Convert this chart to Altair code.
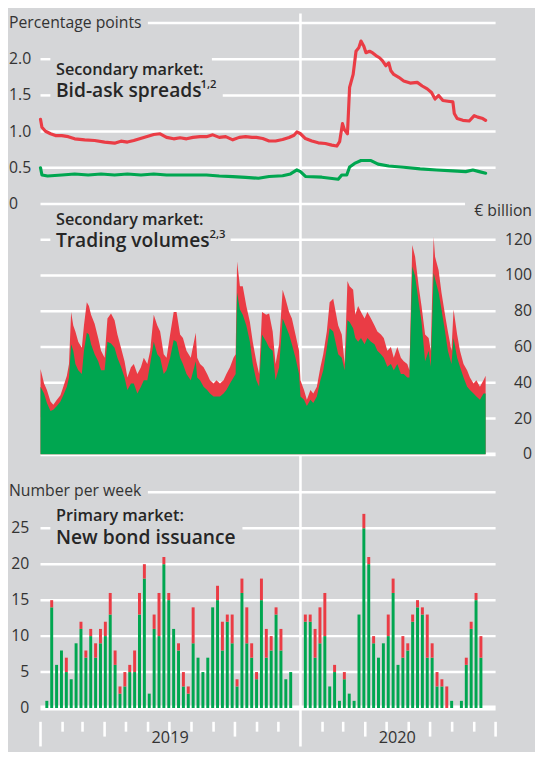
import altair as alt
import pandas as pd

# ---------------- data ----------------
BASE = "2019-01-01"  # day offsets below count from this date

# Secondary market: bid-ask spreads (percentage points)
spread_red_day = [0, 2, 7, 14, 21, 30, 39, 48, 62, 76, 90, 104, 113, 122, 131, 145, 159, 168, 177, 187,
                  196, 205, 214, 224, 233, 242, 251, 260, 270, 279, 288, 297, 303, 312, 321, 330, 340, 349,
                  356, 360, 365, 372, 381, 390, 400, 409, 416, 420, 424, 427, 431, 434, 439, 443, 447, 450,
                  454, 457, 462, 466, 471, 476, 480, 485, 489, 492, 496, 503, 510, 519, 529, 536, 543, 549,
                  554, 559, 565, 572, 579, 581, 585, 593, 602, 609, 614, 621, 625]
spread_red = [1.17, 1.06, 1.005, 0.97, 0.945, 0.945, 0.93, 0.90, 0.886, 0.877, 0.855, 0.84, 0.868, 0.855,
              0.877, 0.92, 0.96, 0.97, 0.92, 0.90, 0.914, 0.90, 0.92, 0.93, 0.93, 0.955, 0.92, 0.93, 0.886,
              0.92, 0.93, 0.92, 0.92, 0.904, 0.87, 0.87, 0.89, 0.918, 0.95, 0.995, 0.97, 0.904, 0.87, 0.845,
              0.836, 0.813, 0.80, 0.86, 1.11, 1.02, 0.97, 1.61, 1.79, 2.11, 2.16, 2.25, 2.18, 2.09, 2.11,
              2.09, 2.05, 2.02, 1.98, 1.91, 1.95, 1.84, 1.79, 1.75, 1.70, 1.67, 1.68, 1.63, 1.59, 1.54,
              1.45, 1.50, 1.43, 1.42, 1.41, 1.25, 1.18, 1.155, 1.146, 1.22, 1.20, 1.18, 1.155]
spread_green_day = [0, 2, 10, 30, 48, 67, 85, 104, 122, 141, 159, 177, 196, 214, 233, 251, 270, 288, 306,
                    321, 340, 351, 360, 365, 372, 395, 418, 423, 430, 434, 441, 450, 464, 474, 489, 510,
                    533, 556, 579, 597, 607, 616, 625]
spread_green = [0.50, 0.40, 0.386, 0.40, 0.414, 0.40, 0.414, 0.40, 0.414, 0.40, 0.414, 0.40, 0.40, 0.40,
                0.40, 0.386, 0.377, 0.368, 0.355, 0.38, 0.39, 0.415, 0.47, 0.447, 0.38, 0.37, 0.342, 0.40,
                0.40, 0.51, 0.56, 0.60, 0.60, 0.55, 0.525, 0.507, 0.484, 0.47, 0.457, 0.447, 0.47, 0.447,
                0.425]

# Secondary market: trading volumes (EUR billion), total (red top) and green part
vol_day = [0, 5, 9, 14, 18, 23, 28, 32, 37, 40, 43, 46, 49, 53, 58, 61, 65, 68, 71, 76, 81, 85, 90, 94,
           99, 104, 108, 113, 118, 122, 127, 131, 136, 141, 145, 150, 154, 159, 164, 168, 173, 177, 182,
           187, 191, 196, 200, 205, 211, 218, 220, 224, 229, 234, 238, 243, 247, 252, 257, 261, 266, 271,
           274, 276, 280, 284, 289, 294, 298, 303, 307, 311, 317, 321, 326, 330, 335, 340, 344, 349, 353,
           358, 363, 365, 370, 374, 379, 383, 388, 393, 397, 402, 406, 411, 418, 423, 427, 431, 434, 439,
           442, 446, 450, 455, 459, 464, 469, 473, 478, 482, 487, 492, 496, 501, 506, 510, 515, 518, 522,
           526, 531, 535, 540, 545, 548, 552, 554, 559, 563, 568, 572, 577, 580, 585, 589, 594, 599, 603,
           608, 612, 617, 622, 625]
vol_total = [47.8, 39.6, 36, 29.6, 27.8, 30.5, 33, 37.8, 44, 50.5, 79.6, 72, 68.7, 63, 59.6, 72, 85, 83,
             78, 73, 65, 58, 54, 76, 78.7, 75, 67, 59.6, 52, 43, 48.7, 50.5, 45, 48.7, 54, 50.5, 58, 78,
             72, 68.7, 56, 54, 67, 79.6, 79.6, 67, 65, 58, 54, 68, 54, 50.5, 48.7, 45, 41.5, 39.6, 41.5,
             39.6, 41.5, 45, 48.7, 54, 56, 107.8, 94, 94, 83, 74, 63, 52, 45, 79.6, 78, 78.7, 68.7, 50.5,
             61.5, 92, 87, 79.6, 76, 67, 58, 41.5, 36, 30.5, 36, 34, 37.8, 48.7, 56, 68.7, 85, 87, 72, 67,
             50.5, 97, 94, 92, 78, 83, 79.6, 76, 79.6, 76, 72, 68.7, 67, 65, 58, 60, 54, 60, 54, 52, 50.5,
             47, 117, 110.5, 94, 83, 67, 65, 58, 121.5, 110.5, 103, 90.5, 78, 68.7, 58, 81, 67, 58, 50.5,
             47, 43, 39.6, 41.5, 37.8, 41.5, 44]
vol_green = [37.8, 34, 28.7, 24.2, 25, 27, 29.6, 33, 37.8, 43, 61.5, 58, 50.5, 47, 45, 58, 68, 67, 61.5,
             56, 52, 47, 47, 63, 62, 59.6, 54, 49, 43, 36, 39.6, 39.6, 34, 37.8, 41.5, 41.5, 50.5, 63, 56,
             54, 45, 47, 54, 64, 63, 54, 50.5, 45, 41.5, 52, 43, 41.5, 37.8, 36, 34, 32.4, 32.4, 32.4, 34,
             36, 39.6, 43, 45, 90.5, 81, 78, 72, 63, 50.5, 41.5, 37.8, 67, 63, 59.6, 58, 41.5, 48.7, 76,
             72, 67, 61.5, 54, 45, 32.4, 30.5, 27, 30.5, 28.7, 32.4, 41.5, 47, 59.6, 70.5, 68.7, 56, 54,
             47, 75, 74, 70.5, 65, 63, 65, 61.5, 65, 63, 61.5, 58, 56, 54, 49, 50.5, 47, 50.5, 45, 45, 43,
             43, 105, 99.6, 85, 74, 52, 58, 49, 101.5, 98, 90.5, 81, 68.7, 58, 50.5, 65, 54, 49, 43, 37.8,
             36, 34, 32.4, 30.5, 34, 34]

# Primary market: new bond issuance, number per week (green part and total)
iss_2019_green = [1, 14, 6, 8, 5, 4, 9, 11, 7, 10, 7, 9, 10, 13, 6, 2, 3, 5, 5, 13, 18, 2, 11, 10, 20, 15,
                  11, 8, 3, 2, 9, 7, 5, 7, 14, 15, 8, 12, 9, 3, 16, 9, 7, 4, 15, 7, 8, 13, 8, 4, 5]
iss_2019_total = [1, 15, 6, 8, 7, 4, 9, 12, 8, 11, 9, 11, 12, 16, 8, 3, 5, 6, 8, 16, 20, 2, 13, 16, 21, 16,
                  11, 9, 5, 3, 14, 7, 5, 7, 14, 17, 12, 13, 13, 4, 18, 14, 9, 5, 18, 11, 10, 14, 11, 4, 5]
iss_2020_green = [12, 12, 7, 9, 10, 3, 5, 1, 4, 2, 1, 13, 25, 20, 9, 7, 9, 10, 16, 6, 7, 8, 12, 14, 13, 7,
                  7, 3, 3, 0, 1, 0, 1, 6, 11, 15, 7]
iss_2020_total = [13, 13, 11, 14, 16, 3, 6, 1, 5, 2, 1, 13, 27, 21, 10, 7, 9, 13, 18, 6, 10, 9, 13, 15, 14,
                  13, 9, 5, 4, 3, 1, 0, 1, 7, 12, 16, 10]

top_ticks = [0, 0.5, 1.0, 1.5, 2.0]
top_tick_labels = ["0", "0.5", "1.0", "1.5", "2.0"]
mid_ticks = [0, 20, 40, 60, 80, 100, 120]
bot_ticks = [0, 5, 10, 15, 20, 25]

# ---------------- style / layout ----------------
FONT = "Open Sans"
BG = "#d5d6d8"
RED = "#ea3c45"
GREEN = "#00a650"
TXT = "#333333"
W, H = 462, 705
D0, D1 = pd.Timestamp("2019-01-01"), pd.Timestamp("2020-10-01")

TOP_R, MID_R, BOT_R = (193.3, 9.6), (447.5, 193.3), (705, 486)
TOP_MAX, MID_MAX, BOT_MAX = 2.5, 140, 30

# gridline segments: (panel, value, left px, right px) - gaps leave room for annotations
grid_segments = [("top", 2.5, 109, W), ("top", 2.0, 0, 10), ("top", 2.0, 174, W), ("top", 1.5, 0, 10),
                 ("top", 1.5, 185, W), ("top", 1.0, 0, W), ("top", 0.5, 0, W), ("top", 0.0, 0, 431),
                 ("mid", 120, 0, 10), ("mid", 120, 193, W), ("mid", 100, 0, W), ("mid", 80, 0, W),
                 ("mid", 60, 0, W), ("mid", 40, 0, W), ("mid", 20, 0, W),
                 ("bot", 30, 109, W), ("bot", 25, 0, 10), ("bot", 25, 205, W), ("bot", 20, 0, W),
                 ("bot", 15, 0, W), ("bot", 10, 0, W), ("bot", 5, 0, W)]
base_segments = [("mid", 0, 0, W, 4), ("bot", 0, 0, W, 5)]


def to_dates(days):
    return pd.Timestamp(BASE) + pd.to_timedelta(days, unit="D")


XS = alt.Scale(domain=[alt.DateTime(year=2019, month=1, date=1),
                       alt.DateTime(year=2020, month=10, date=1)])
TOP = alt.Scale(domain=[0, TOP_MAX], range=list(TOP_R), nice=False, zero=False)
MID = alt.Scale(domain=[0, MID_MAX], range=list(MID_R), nice=False)
BOT = alt.Scale(domain=[0, BOT_MAX], range=list(BOT_R), nice=False)
PANEL = {"top": (TOP_R, TOP_MAX), "mid": (MID_R, MID_MAX), "bot": (BOT_R, BOT_MAX)}


def xdate(field="date:T"):
    return alt.X(field, scale=XS, axis=None)


def px(field):
    return alt.X(field, scale=None, axis=None)


def py(field):
    return alt.Y(field, scale=None, axis=None)


# data frames
red_df = pd.DataFrame({"date": to_dates(spread_red_day), "v": spread_red})
green_df = pd.DataFrame({"date": to_dates(spread_green_day), "v": spread_green})
vol_df = pd.DataFrame({"date": to_dates(vol_day), "total": vol_total, "green": vol_green})
weeks = list(pd.date_range("2019-01-03", periods=len(iss_2019_green), freq="7D")) + \
        list(pd.date_range("2020-01-09", periods=len(iss_2020_green), freq="7D"))
iss_df = pd.DataFrame({"date": weeks,
                       "green": iss_2019_green + iss_2020_green,
                       "total": iss_2019_total + iss_2020_total})


def seg_frame(rows):
    out = []
    span = D1 - D0
    for r in rows:
        panel, v, a, b = r[0], r[1], r[2], r[3]
        (r0, r1), vmax = PANEL[panel]
        out.append({"ypix": r0 + (v / vmax) * (r1 - r0),
                    "da": D0 + span * (a / W), "db": D0 + span * (b / W)})
    return pd.DataFrame(out)


grid_lines = alt.Chart(seg_frame(grid_segments)).mark_rule(color="white", strokeWidth=2.5).encode(
    x=xdate("da:T"), x2="db:T", y=py("ypix:Q"))
base_mid = alt.Chart(seg_frame(base_segments[:1])).mark_rule(color="white", strokeWidth=4).encode(
    x=xdate("da:T"), x2="db:T", y=py("ypix:Q"))
base_bot = alt.Chart(seg_frame(base_segments[1:])).mark_rule(color="white", strokeWidth=5).encode(
    x=xdate("da:T"), x2="db:T", y=py("ypix:Q"))

# month ticks and the year boundary line
months = pd.date_range("2019-01-01", "2020-10-01", freq="MS")
tick_df = pd.DataFrame({"date": months})
tick_df["y1"] = 719
tick_df["y2"] = [744 if m.month == 1 else (734 if m.month in (4, 7, 10) else 729) for m in months]
tick_df.loc[tick_df["date"] == pd.Timestamp("2020-01-01"), "y1"] = 0
ticks = alt.Chart(tick_df).mark_rule(color="white", strokeWidth=2.6).encode(
    x=xdate(), y=py("y1:Q"), y2="y2:Q")

# data marks
area_red = alt.Chart(vol_df).mark_area(color=RED).encode(
    x=xdate(), y=alt.Y("total:Q", scale=MID, axis=None))
area_green = alt.Chart(vol_df).mark_area(color=GREEN).encode(
    x=xdate(), y=alt.Y("green:Q", scale=MID, axis=None))
line_red = alt.Chart(red_df).mark_line(color=RED, strokeWidth=3.2, strokeJoin="round",
                                       strokeCap="round").encode(
    x=xdate(), y=alt.Y("v:Q", scale=TOP, axis=None))
line_green = alt.Chart(green_df).mark_line(color=GREEN, strokeWidth=3.2, strokeJoin="round",
                                           strokeCap="round").encode(
    x=xdate(), y=alt.Y("v:Q", scale=TOP, axis=None))
bar_green = alt.Chart(iss_df).mark_bar(color=GREEN, size=3).encode(
    x=xdate(), y=alt.Y("green:Q", scale=BOT, axis=None))
bar_red = alt.Chart(iss_df).mark_bar(color=RED, size=3).encode(
    x=xdate(), y=alt.Y("total:Q", scale=BOT, axis=None), y2="green:Q")

# tick labels
top_lab = alt.Chart(pd.DataFrame({"v": top_ticks, "t": top_tick_labels})).mark_text(
    align="left", baseline="middle", font=FONT, fontSize=16, color=TXT).encode(
    x=alt.value(-32), y=alt.Y("v:Q", scale=TOP, axis=None), text="t:N")
mid_lab = alt.Chart(pd.DataFrame({"v": mid_ticks})).mark_text(
    align="right", baseline="middle", font=FONT, fontSize=16, color=TXT).encode(
    x=alt.value(499), y=alt.Y("v:Q", scale=MID, axis=None), text="v:Q")
bot_lab = alt.Chart(pd.DataFrame({"v": bot_ticks})).mark_text(
    align="right", baseline="middle", font=FONT, fontSize=16, color=TXT).encode(
    x=alt.value(-11.5), y=alt.Y("v:Q", scale=BOT, axis=None), text="v:Q")
year_lab = alt.Chart(pd.DataFrame({"date": pd.to_datetime(["2019-07-02", "2020-05-16"]),
                                   "t": ["2019", "2020"]})).mark_text(
    align="center", baseline="middle", font=FONT, fontSize=16.5, color=TXT).encode(
    x=xdate(), y=alt.value(736), text="t:N")

# unit labels
unit_left = alt.Chart(pd.DataFrame({"x": [-32, -32], "y": [10, 485],
                                    "text": ["Percentage points", "Number per week"]})).mark_text(
    align="left", baseline="middle", font=FONT, fontSize=16, color=TXT).encode(
    x=px("x:Q"), y=py("y:Q"), text="text:N")
unit_right = alt.Chart(pd.DataFrame({"x": [499], "y": [201], "text": ["€ billion"]})).mark_text(
    align="right", baseline="middle", font=FONT, fontSize=16, color=TXT).encode(
    x=px("x:Q"), y=py("y:Q"), text="text:N")

# panel titles
small_titles = alt.Chart(pd.DataFrame({"x": [15.7, 15.7, 15.7], "y": [62, 214.3, 515.5],
                                       "text": ["Secondary market:", "Secondary market:",
                                                "Primary market:"]})).mark_text(
    align="left", baseline="alphabetic", font=FONT, fontSize=16.5, fontWeight=600,
    color="#262626").encode(x=px("x:Q"), y=py("y:Q"), text="text:N")
big_titles = alt.Chart(pd.DataFrame({"x": [15.7, 15.7, 15.7], "y": [84.7, 237, 538],
                                     "text": ["Bid-ask spreads", "Trading volumes",
                                              "New bond issuance"]})).mark_text(
    align="left", baseline="alphabetic", font=FONT, fontSize=19.5, fontWeight=600,
    color="#262626").encode(x=px("x:Q"), y=py("y:Q"), text="text:N")
sups = alt.Chart(pd.DataFrame({"x": [162.5, 171.5], "y": [76, 228],
                               "text": ["1,2", "2,3"]})).mark_text(
    align="left", baseline="alphabetic", font=FONT, fontSize=11.5, fontWeight=600,
    color="#262626").encode(x=px("x:Q"), y=py("y:Q"), text="text:N")

chart = alt.layer(
    ticks, grid_lines, base_mid, base_bot,
    area_red, area_green,
    line_red, line_green,
    bar_green, bar_red,
    top_lab, mid_lab, bot_lab, year_lab,
    unit_left, unit_right,
    small_titles, big_titles, sups,
).resolve_scale(x="independent", y="independent").properties(
    width=W, height=H,
    autosize=alt.AutoSizeParams(type="none"),
    padding={"left": 33, "top": 0, "right": 40, "bottom": 39},
    background=BG,
).configure_view(strokeWidth=0)

chart.save("out.html", embed_options={"renderer": "svg", "actions": False})
